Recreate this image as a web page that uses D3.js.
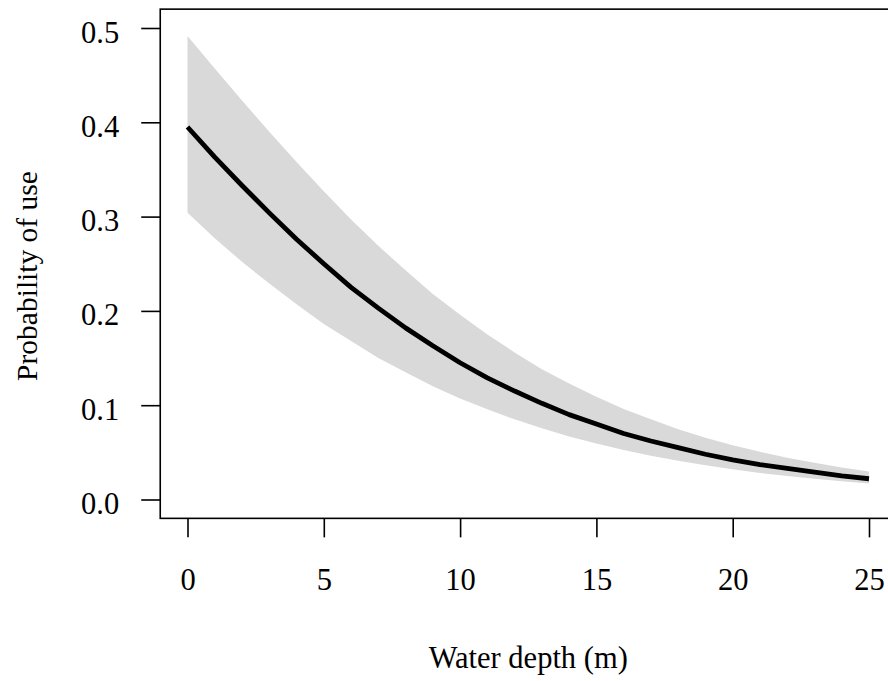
<!DOCTYPE html>
<html>
<head>
<meta charset="utf-8">
<script src="https://cdn.jsdelivr.net/npm/d3@7"></script>
<style>
  html, body { margin: 0; padding: 0; background: #fff; }
  svg { display: block; }
  text { font-family: "Liberation Serif", "Times New Roman", serif; fill: #000; }
</style>
</head>
<body>
<svg id="chart" width="888" height="681"></svg>
<script>
// Water depth (m)
const depth = [0,1,2,3,4,5,6,7,8,9,10,11,12,13,14,15,16,17,18,19,20,21,22,23,24,25];
// Fitted probability of use
const fitted = [0.395,0.363,0.333,0.304,0.276,0.250,0.225,0.203,0.182,0.163,0.145,0.129,0.115,0.102,0.090,0.080,0.070,0.062,0.055,0.048,0.042,0.037,0.033,0.029,0.025,0.022];
// Upper confidence limit
const upper = [0.4915,0.457,0.423,0.390,0.358,0.327,0.297,0.269,0.243,0.218,0.196,0.175,0.156,0.138,0.123,0.109,0.096,0.085,0.0746,0.0656,0.0576,0.0506,0.0443,0.0389,0.0340,0.0297];
// Lower confidence limit
const lower = [0.304,0.277,0.252,0.229,0.207,0.186,0.168,0.150,0.135,0.120,0.107,0.0956,0.0850,0.0755,0.0669,0.0593,0.0525,0.0464,0.0410,0.0362,0.0320,0.0282,0.0249,0.0220,0.0193,0.0171];
const xTicks = [0,5,10,15,20,25];
const yTicks = [0.0,0.1,0.2,0.3,0.4,0.5];
const xLabel = "Water depth (m)";
const yLabel = "Probability of use";

const svg = d3.select("#chart");
const x = d3.scaleLinear().domain([0, 25]).range([187.5, 869]);
const y = d3.scaleLinear().domain([0, 0.5]).range([499.5, 28]);

const data = depth.map((d, i) => ({d, f: fitted[i], lo: lower[i], hi: upper[i]}));

// confidence band
svg.append("path")
  .datum(data)
  .attr("fill", "#d9d9d9")
  .attr("stroke", "none")
  .attr("d", d3.area().x(p => x(p.d)).y0(p => y(p.lo)).y1(p => y(p.hi)));

// fitted line
svg.append("path")
  .datum(data)
  .attr("fill", "none")
  .attr("stroke", "#000")
  .attr("stroke-width", 4.8)
  .attr("stroke-linejoin", "round")
  .attr("d", d3.line().x(p => x(p.d)).y(p => y(p.f)));

// plot box (R style, 4% extension)
const bx0 = x(-1), bx1 = x(26), by0 = y(0.52), by1 = y(-0.02);
svg.append("rect")
  .attr("x", bx0).attr("y", by0)
  .attr("width", bx1 - bx0).attr("height", by1 - by0)
  .attr("fill", "none").attr("stroke", "#000").attr("stroke-width", 1.6);

const fs = "30.5px";

// x axis
const xAxis = svg.append("g").attr("transform", `translate(0,${by1})`)
  .call(d3.axisBottom(x).tickValues(xTicks).tickSize(19).tickPadding(0).tickFormat(d3.format("d")));
xAxis.select(".domain").remove();
xAxis.selectAll(".tick line").attr("stroke", "#000").attr("stroke-width", 1.6);
xAxis.selectAll(".tick text")
  .attr("y", 72).attr("dy", null)
  .style("font-size", fs).style("font-family", "Liberation Serif, serif").attr("fill", "#000");

// y axis
const yAxis = svg.append("g").attr("transform", `translate(${bx0},0)`)
  .call(d3.axisLeft(y).tickValues(yTicks).tickSize(19).tickPadding(0).tickFormat(d3.format(".1f")));
yAxis.select(".domain").remove();
yAxis.selectAll(".tick line").attr("stroke", "#000").attr("stroke-width", 1.6);
yAxis.selectAll(".tick text")
  .attr("x", -41).attr("dy", null).attr("y", 14)
  .attr("text-anchor", "end")
  .style("font-size", fs).style("font-family", "Liberation Serif, serif").attr("fill", "#000");

// axis titles
svg.append("text")
  .attr("x", (bx0 + bx1) / 2).attr("y", 668)
  .attr("text-anchor", "middle")
  .style("font-size", fs)
  .text(xLabel);

svg.append("text")
  .attr("transform", `translate(37,276) rotate(-90)`)
  .attr("text-anchor", "middle")
  .style("font-size", "29.5px")
  .text(yLabel);
</script>
</body>
</html>
